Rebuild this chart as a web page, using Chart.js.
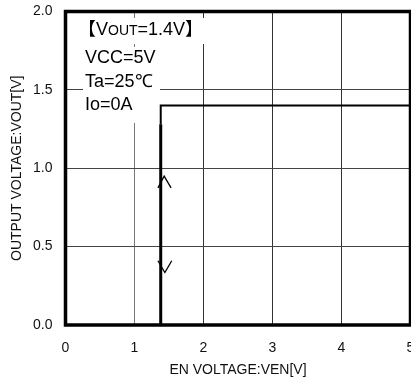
<!DOCTYPE html>
<html><head><meta charset="utf-8">
<script src="https://cdn.jsdelivr.net/npm/chart.js@4/dist/chart.umd.min.js"></script>
<style>
html,body{margin:0;padding:0;background:#fff;overflow:hidden;width:411px;height:380px}
#wrap{position:absolute;left:0;top:0;width:440px;height:380px}
</style></head><body><div id="wrap"><canvas id="c" width="440" height="380"></canvas></div>
<script>
// ---- data ----
const xTicks = [0, 1, 2, 3, 4, 5];
const yTicks = [0.0, 0.5, 1.0, 1.5, 2.0];
const enRise = [{x:1.38, y:0}, {x:1.38, y:1.28}];          // thick vertical trace
const outputStep = [{x:1.38, y:1.28}, {x:1.38, y:1.40}, {x:5, y:1.40}]; // VOUT after enable
const arrowUp = [{x:1.34, y:0.875}, {x:1.43, y:0.95}, {x:1.53, y:0.875}];
const arrowDown = [{x:1.34, y:0.41}, {x:1.44, y:0.335}, {x:1.54, y:0.41}];
const conditionLines = ['VCC=5V', 'Ta=25\u2103', 'Io=0A'];

const FONT = "'Liberation Sans', Arial, sans-serif";
Chart.defaults.font.family = FONT;
Chart.defaults.color = '#111';

const framePlugin = {
  id: 'frame',
  beforeDatasetsDraw(chart) {
    const {ctx} = chart;
    ctx.save();
    ctx.fillStyle = '#fff';
    ctx.fillRect(80, 18, 126, 26);
    ctx.fillRect(83, 47, 77, 76);
    ctx.restore();
  },
  afterDatasetsDraw(chart) {
    const {ctx, chartArea: a} = chart;
    ctx.save();
    ctx.strokeStyle = '#000';
    ctx.lineWidth = 3.5;
    ctx.strokeRect(a.left, a.top, a.right - a.left, a.bottom - a.top);
    // annotation text
    ctx.fillStyle = '#000';
    ctx.textBaseline = 'alphabetic';
    let x = 78;
    const big = "18px " + FONT, small = "14px " + FONT;
    ctx.font = "18px 'Noto Sans CJK JP', " + FONT;
    ctx.fillText('\u3010', x, 35); x += ctx.measureText('\u3010').width;
    ctx.font = big; ctx.fillText('V', x, 35); x += ctx.measureText('V').width;
    ctx.font = small; ctx.fillText('OUT', x, 35); x += ctx.measureText('OUT').width;
    ctx.font = big; ctx.fillText('=1.4V', x, 35); x += ctx.measureText('=1.4V').width;
    ctx.font = "18px 'Noto Sans CJK JP', " + FONT;
    ctx.fillText('\u3011', x, 35);
    ctx.font = big;
    const ys = [63, 87, 110];
    conditionLines.forEach((t, i) => ctx.fillText(t, 85, ys[i]));
    ctx.restore();
  }
};

new Chart(document.getElementById('c'), {
  type: 'scatter',
  data: {
    datasets: [
      {data: outputStep, showLine: true, borderColor: '#000', borderWidth: 2, pointRadius: 0, tension: 0},
      {data: enRise, showLine: true, borderColor: '#000', borderWidth: 3, pointRadius: 0, tension: 0},
      {data: arrowUp, showLine: true, borderColor: '#000', borderWidth: 1.3, pointRadius: 0, tension: 0},
      {data: arrowDown, showLine: true, borderColor: '#000', borderWidth: 1.3, pointRadius: 0, tension: 0}
    ]
  },
  options: {
    responsive: false,
    animation: false,
    events: [],
    layout: {padding: {left: 0, top: 11.5, right: 440 - 410.5, bottom: 0}},
    plugins: {legend: {display: false}, tooltip: {enabled: false}},
    scales: {
      x: {
        type: 'linear', min: 0, max: 5,
        afterBuildTicks: s => { s.ticks = xTicks.map(v => ({value: v})); },
        afterFit: s => { s.height = 55; s.paddingLeft = 0; s.paddingRight = 0; },
        ticks: {padding: 15, color: '#111', font: {size: 14}, callback: v => String(v), maxRotation: 0, autoSkip: false},
        grid: {drawTicks: false, lineWidth: 1, color: c => (c.tick && (c.tick.value === 0 || c.tick.value === 5)) ? 'rgba(0,0,0,0)' : (c.tick && c.tick.value === 1 ? '#777' : '#333')},
        border: {display: false},
        title: {display: true, text: 'EN VOLTAGE:VEN[V]', color: '#111', font: {size: 14}, padding: {top: 0, bottom: 1}}
      },
      y: {
        type: 'linear', min: 0, max: 2,
        afterBuildTicks: s => { s.ticks = yTicks.map(v => ({value: v})); },
        afterFit: s => { s.width = 65.5; s.paddingTop = 0; s.paddingBottom = 0; },
        ticks: {padding: 13, color: '#111', font: {size: 14}, callback: v => Number(v).toFixed(1), autoSkip: false},
        grid: {drawTicks: false, lineWidth: 1, color: c => (c.tick && (c.tick.value === 0 || c.tick.value === 2)) ? 'rgba(0,0,0,0)' : '#444'},
        border: {display: false},
        title: {display: true, text: 'OUTPUT VOLTAGE:VOUT[V]', color: '#111', font: {size: 14}, padding: {top: 9, bottom: 0}}
      }
    }
  },
  plugins: [framePlugin]
});
</script></body></html>
